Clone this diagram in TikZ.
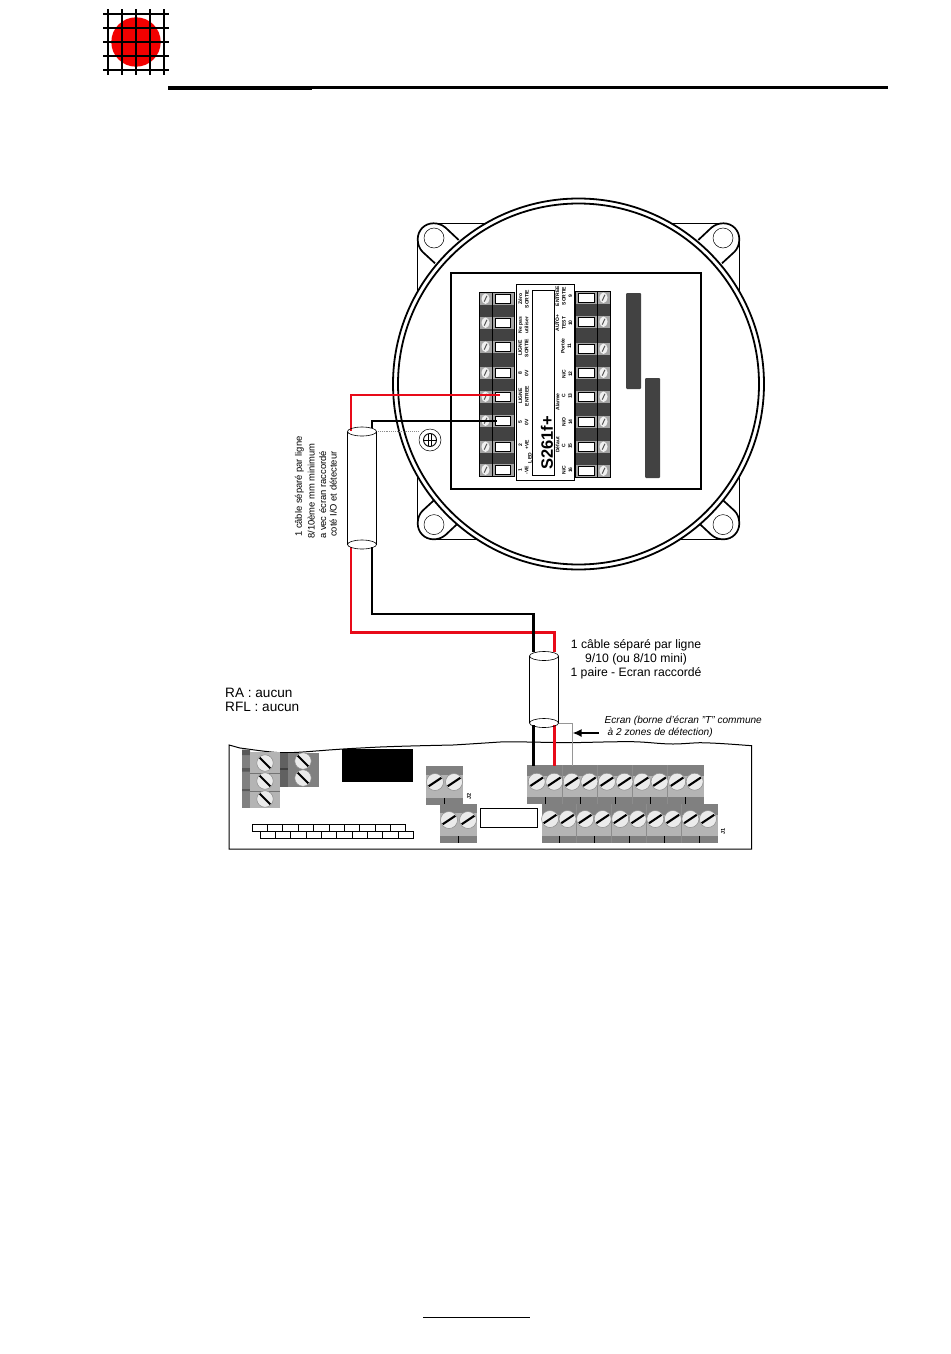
\documentclass[tikz,border=0pt]{standalone}
\usepackage{fontspec}
\setmainfont{Liberation Sans}
\usetikzlibrary{arrows.meta}
\definecolor{cablered}{RGB}{232,10,25}
\definecolor{blockmid}{RGB}{180,180,180}
\definecolor{blockdark}{RGB}{128,128,128}
\definecolor{panelgrey}{RGB}{66,66,66}
\definecolor{cellgrey}{RGB}{165,165,165}
\definecolor{shieldgrey}{RGB}{150,150,150}
\tikzset{
  px/.style={x=1pt,y=-1pt},
  redwire/.style={draw=cablered,line width=2.6pt,line join=miter},
  blackwire/.style={draw=black,line width=2.6pt,line join=miter},
  shieldwire/.style={draw=shieldgrey,line width=.8pt},
  smalltxt/.style={font=\fontsize{5}{6.5}\selectfont\bfseries,rotate=90,inner sep=0pt,align=center},
  vnote/.style={font=\fontsize{9.4}{11.3}\selectfont,inner sep=0pt,rotate=90,align=left},
  slash/.style={line width=2.1pt,black},
}
\newcommand{\bigscrew}[2]{%
  \fill[black!8,draw=black!45,line width=.5pt] (#1,#2) circle (8.5);
  \draw[slash] ({#1-6.3},{#2+4.2}) -- ({#1+6.3},{#2-4.2});}
\newcommand{\backscrew}[2]{%
  \fill[black!8,draw=black!45,line width=.5pt] (#1,#2) circle (8.2);
  \draw[slash] ({#1-5.3},{#2-5.3}) -- ({#1+5.3},{#2+5.3});}
\newcommand{\cellrowL}[1]{%
  \fill[cellgrey] (479,#1) rectangle (514,{#1+11.5});
  \fill[black!6] (485.5,{#1+5.75}) ellipse (4 and 5.2);
  \draw[black!65,line width=1pt] (484.2,{#1+8.7}) -- (486.9,{#1+2.8});
  \draw[black,fill=white,line width=1pt] (495.5,{#1+1.8}) rectangle (510.5,{#1+10.2});}
\newcommand{\cellrowR}[1]{%
  \fill[cellgrey] (575,#1) rectangle (610,{#1+11.5});
  \fill[black!6] (603.5,{#1+5.75}) ellipse (4 and 5.2);
  \draw[black!65,line width=1pt] (602.2,{#1+8.7}) -- (604.9,{#1+2.8});
  \draw[black,fill=white,line width=1pt] (578.5,{#1+1.8}) rectangle (594,{#1+10.2});}
\begin{document}
\begin{tikzpicture}[px]
\useasboundingbox (0,0) rectangle (950,1354);
\fill[white] (0,0) rectangle (950,1354);
% logo
\fill[red!95!black] (136,42) circle (24.7);
\foreach \gx in {108.3,122.3,136,150,164} \draw[black,line width=2.2pt] (\gx,9.3) -- (\gx,75);
\foreach \gy in {14,28.3,42,56,70} \draw[black,line width=2.2pt] (103.3,\gy) -- (168.7,\gy);
% header and footer rules
\fill[black] (168,86) rectangle (312,89.5);
\fill[black] (312,85.8) rectangle (888,89);
\draw[black,line width=1pt] (423,1317) -- (530,1317);
% enclosure corners
\foreach \sx/\sy in {1/1,-1/1,1/-1,-1/-1}{
  \begin{scope}[shift={(578.5,381.3)},xscale=\sx,yscale=\sy]
    \draw[black,line width=.9pt] (-145,-158) -- (0,-158) (-160.8,-142) -- (-160.8,0);
    \draw[black,line width=1.7pt] (-119.8,-141.3) -- (-133,-153.7) .. controls (-137,-157) and (-141,-158) .. (-145,-158)
      .. controls (-154,-158) and (-160.8,-151) .. (-160.8,-142)
      .. controls (-160.8,-137) and (-159,-132.5) .. (-156,-129.5) -- (-143.5,-118);
    \draw[black,line width=.5pt] (-144.5,-143.3) circle (10);
  \end{scope}}
% housing ring
\draw[black,fill=white,line width=1.8pt] (578.5,384) circle (185.5);
\draw[black,line width=1.8pt] (578.5,384) circle (180.5);
% panel
\draw[black,line width=1.8pt,fill=white] (451,273) rectangle (701,489);
% dark bars
\fill[panelgrey,rounded corners=1pt] (626,293) rectangle (641,389);
\fill[panelgrey,rounded corners=1pt] (645,378) rectangle (660,478);
% left and right terminal strips
\fill[panelgrey] (479,292.5) rectangle (514,476.5);
\fill[panelgrey] (575,291.5) rectangle (610,477);
\foreach \ry in {293,317,341,367,391,415,441,464} \cellrowL{\ry}
\foreach \ry in {292,316,343,367,391,416,441,465} \cellrowR{\ry}
\draw[black,line width=.6pt] (479,292.5) rectangle (514,476.5);
\draw[black,line width=.6pt] (575,291.5) rectangle (610,477);
\draw[black,line width=.5pt] (492,292.5) -- (492,476.5) (597,291.5) -- (597,477);
% centre module
\draw[black,fill=white,line width=.9pt] (516,284) rectangle (574,480);
\draw[black,line width=.9pt] (532,290) rectangle (554,475);
\node[rotate=90,font=\fontsize{16.5}{17}\selectfont\bfseries,inner sep=0pt] (modname) at (547,443) {S261f+};
\node[smalltxt] (l1) at (523.5,299) {Zéro\\SORTIE};
\node[smalltxt] (l2) at (523.5,325) {Ne pas\\utiliser};
\node[smalltxt] (l3) at (523.5,348) {LIGNE\\SORTIE};
\node[smalltxt] (l4) at (523.5,373) {8\\0V};
\node[smalltxt] (l5) at (523.5,396) {LIGNE\\ENTREE};
\node[smalltxt] (l6) at (523.5,422) {5\\0V};
\node[smalltxt] (l7) at (523.5,445) {2\\+VE};
\node[smalltxt] (l8) at (523.5,470) {1\\-VE};
\node[smalltxt] (led) at (530,458) {LED};
\node[smalltxt] (r1) at (564,296) {ENTREE\\SORTIE\\9};
\node[smalltxt] (r2) at (564,323) {AUTO+\\TEST\\10};
\node[smalltxt] (r3) at (566,346) {Portée\\11};
\node[smalltxt] (r4) at (567,374) {N/C\\12};
\node[smalltxt] (r5) at (567,396) {C\\13};
\node[smalltxt] (r6) at (567,422) {N/O\\14};
\node[smalltxt] (r7) at (567,446) {C\\15};
\node[smalltxt] (r8) at (567,470) {N/C\\16};
\node[smalltxt] (alarm) at (557.5,402) {Alarme};
\node[smalltxt] (fault) at (557.5,445) {Défaut};
% earth stud
\node[circle,draw=black,line width=.5pt,fill=white,minimum size=22pt,inner sep=0pt] (earth) at (430,440) {};
\node[circle,draw=black,line width=.9pt,minimum size=13pt,inner sep=0pt] (earthin) at (430,440) {};
\draw[black,line width=.9pt] (424,440) -- (436,440) (428.3,434) -- (428.3,446) (431.7,434) -- (431.7,446);
% named wiring points
\coordinate (redA) at (500,395);
\coordinate (blackA) at (497,421);
\coordinate (c1tl) at (351,431);
\coordinate (c1tr) at (372,428);
\coordinate (c1bl) at (351,547);
\coordinate (c1br) at (372,547);
\coordinate (c2tl) at (533.5,652);
\coordinate (c2tr) at (554.5,652);
\coordinate (c2bl) at (533.5,725);
\coordinate (c2br) at (554.5,725);
\coordinate (term1) at (533.5,766);
\coordinate (term2) at (554.5,766);
\coordinate (term3) at (572,766);
% board
\draw[black,line width=1pt,fill=white] (229,745) .. controls (233,746) and (236,747) .. (240,748)
  .. controls (255,750) and (268,752) .. (280,752.7)
  .. controls (295,753) and (308,751.5) .. (320,750.7)
  .. controls (340,749) and (360,748) .. (380,747)
  .. controls (405,746) and (430,745.5) .. (453,745)
  .. controls (470,744) and (485,743) .. (500,742)
  .. controls (520,741.5) and (545,742.5) .. (567,742.7)
  .. controls (590,742.5) and (612,741.5) .. (633,741.7)
  .. controls (648,742) and (660,744) .. (673,744)
  .. controls (682,744) and (690,743) .. (700,742.7)
  .. controls (718,743) and (735,744.5) .. (751.7,745.7)
  -- (751.7,849) -- (229,849) -- cycle;
% rear terminal groups
\fill[blockdark] (242,749.5) rectangle (250,808);
\fill[black!65] (242,749.5) rectangle (250,755) (242,768) rectangle (250,771.5) (242,789) rectangle (250,791);
\fill[blockmid] (250,752) rectangle (280,808);
\draw[black!55,line width=.5pt] (250,773) -- (280,773) (250,791) -- (280,791);
\fill[black!62] (280,753) rectangle (288,787);
\fill[blockdark] (288,753) rectangle (319,787);
\fill[black!75] (280,768) rectangle (288,770);
\backscrew{265}{763}\backscrew{265}{781}\backscrew{265}{799}
\backscrew{303}{761}\backscrew{303}{778}
\fill[black] (342,749) rectangle (413,782);
% bricks
\foreach \bi in {0,...,9}{
  \draw[black,line width=.7pt] ({252+15.37*\bi},824) rectangle ({252+15.37*(\bi+1)},831);
  \draw[black,line width=.7pt] ({260+15.33*\bi},831) rectangle ({260+15.33*(\bi+1)},838.7);}
% J2 blocks
\foreach \bx/\by in {426/766,440/804}{
  \fill[blockdark] (\bx,\by) rectangle ({\bx+37},{\by+38.5});
  \fill[blockmid] (\bx,{\by+9}) rectangle ({\bx+37},{\by+31.5});
  \draw[black,line width=1pt] ({\bx+18.5},{\by+32}) -- ({\bx+18.5},{\by+38.5});
  \bigscrew{\bx+9}{\by+16}\bigscrew{\bx+28}{\by+16}}
\node[rotate=90,font=\fontsize{5.5}{6}\selectfont\bfseries,inner sep=0pt] (j2) at (469,796) {J2};
\draw[black,line width=.9pt,fill=white] (480,808) rectangle (537,827);
% J1 rows
\fill[blockdark] (527,765) rectangle (704,804);
\fill[blockmid] (527,776) rectangle (704,797);
\fill[blockdark] (541.7,804) rectangle (718,843);
\fill[blockmid] (541.7,815) rectangle (718,836);
\foreach \ti in {1,...,4}{
  \draw[black!45,line width=.5pt] ({527+35*\ti},765) -- ({527+35*\ti},804);
  \draw[black!45,line width=.5pt] ({541.7+35*\ti},804) -- ({541.7+35*\ti},843);}
\foreach \ti in {0,...,4}{
  \draw[black,line width=1pt] ({545.5+35*\ti},797) -- ({545.5+35*\ti},804);
  \draw[black,line width=1pt] ({559.7+35*\ti},836) -- ({559.7+35*\ti},843);}
\foreach \ti in {0,...,9}{
  \bigscrew{536.7+17.55*\ti}{781.7}
  \bigscrew{550+17.55*\ti}{819}}
\node[rotate=90,font=\fontsize{5.5}{6}\selectfont\bfseries,inner sep=0pt] (j1) at (723,831) {J1};
% wiring
\draw[redwire] (redA) -- (351,395) -- (c1tl);
\draw[blackwire] (blackA) -- (372,421) -- (c1tr);
\draw[redwire] (c1bl) -- (351,632.5) -- (554.5,632.5) -- (c2tr);
\draw[blackwire] (c1br) -- (372,614) -- (533.5,614) -- (c2tl);
\draw[blackwire] (c2bl) -- (term1);
\draw[redwire] (c2br) -- (term2);
\draw[shieldwire] (558,723) -- (572,723) -- (term3);
\draw[black!45,densely dotted,line width=.9pt] (376,431) -- (earth.west |- 0,431);
% cylinders
\foreach \cname/\cx/\ct/\cb in {up/362/431.5/544.5,down/544/656/723}{
  \fill[white] ({\cx-14.5},\ct) rectangle ({\cx+14.5},\cb);
  \draw[black,line width=.9pt] ({\cx-14.5},\ct) -- ({\cx-14.5},\cb) ({\cx+14.5},\ct) -- ({\cx+14.5},\cb);
  \draw[black,line width=.6pt] (\cx,\ct) ellipse (14.5 and 4.5) (\cx,\cb) ellipse (14.5 and 4.5);}
% notes
\node[vnote,anchor=south west] (vn1) at (304,537) {1 câble séparé par ligne};
\node[vnote,anchor=south west] (vn2) at (315,539) {8/10ème mm minimum};
\node[vnote,anchor=south west] (vn3) at (326.5,539) {a vec écran raccordé};
\node[vnote,anchor=south west] (vn4) at (337,537) {coté I/O et détecteur};
\node[font=\fontsize{12.2}{14}\selectfont,inner sep=0pt,align=center] (n1) at (636,659) {1 câble séparé par ligne\\9/10 (ou 8/10 mini)\\1 paire - Ecran raccordé};
\node[font=\fontsize{13.6}{14}\selectfont,inner sep=0pt,align=left,anchor=west] (n2) at (225,700) {RA : aucun\\RFL : aucun};
\node[font=\fontsize{10.1}{12.5}\selectfont\itshape,inner sep=0pt,align=left,anchor=west] (n3) at (604.5,727) {Ecran (borne d'écran "T" commune\\\hspace*{3pt}à 2 zones de détection)};
\coordinate (arrowstart) at (598.5,733);
\coordinate (arrowend) at (572.5,733);
\draw[black,line width=1.8pt,-{Latex[length=9pt,width=8pt]}] (arrowstart) -- (arrowend);
\end{tikzpicture}
\end{document}
